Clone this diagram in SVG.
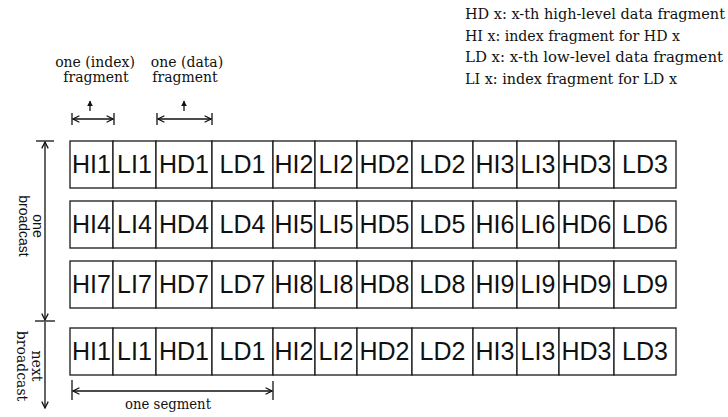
<svg xmlns="http://www.w3.org/2000/svg" width="728" height="417" viewBox="0 0 728 417">
<style>
.cell rect{fill:#fff;stroke:#1a1a1a;stroke-width:1.3}
.cell text{font-family:"Liberation Sans",Arial,sans-serif;font-size:25px;fill:#111;text-anchor:middle}
.serif{font-family:"DejaVu Serif","Liberation Serif",serif;font-size:14px;fill:#111}
.sans{font-family:"Liberation Sans",Arial,sans-serif;font-size:14px;fill:#111}
.ln{stroke:#111;stroke-width:1.3;fill:none}
</style>
<defs>
<marker id="ah" viewBox="0 0 10 10" refX="9" refY="5" markerWidth="8" markerHeight="8" markerUnits="userSpaceOnUse" orient="auto-start-reverse">
<path d="M1,1 L9,5 L1,9" fill="none" stroke="#111" stroke-width="1.6"/>
</marker>
<marker id="fh" viewBox="0 0 10 10" refX="9" refY="5" markerWidth="6" markerHeight="6" markerUnits="userSpaceOnUse" orient="auto-start-reverse">
<path d="M0,0 L10,5 L0,10 Z" fill="#111"/>
</marker>
</defs>

<g id="legend" class="serif">
<text x="465" y="19" textLength="260" lengthAdjust="spacingAndGlyphs">HD x: x-th high-level data fragment</text>
<text x="465" y="41" textLength="215" lengthAdjust="spacingAndGlyphs">HI x: index fragment for HD x</text>
<text x="465" y="62" textLength="258" lengthAdjust="spacingAndGlyphs">LD x: x-th low-level data fragment</text>
<text x="465" y="84" textLength="212" lengthAdjust="spacingAndGlyphs">LI x: index fragment for LD x</text>
</g>

<g id="label-index" class="serif" text-anchor="middle">
<text x="95" y="67">one (index)</text>
<text x="96" y="82">fragment</text>
</g>
<g id="label-data" class="serif" text-anchor="middle">
<text x="187" y="67">one (data)</text>
<text x="185" y="82">fragment</text>
</g>

<g id="row1">
<g class="cell" id="r1c1"><rect x="70" y="141" width="43" height="47"/><text x="91.5" y="173">HI1</text></g>
<g class="cell" id="r1c2"><rect x="113" y="141" width="43" height="47"/><text x="134.5" y="173">LI1</text></g>
<g class="cell" id="r1c3"><rect x="156" y="141" width="56" height="47"/><text x="184" y="173">HD1</text></g>
<g class="cell" id="r1c4"><rect x="212" y="141" width="61" height="47"/><text x="242.5" y="173">LD1</text></g>
<g class="cell" id="r1c5"><rect x="273" y="141" width="42" height="47"/><text x="294" y="173">HI2</text></g>
<g class="cell" id="r1c6"><rect x="315" y="141" width="42" height="47"/><text x="336" y="173">LI2</text></g>
<g class="cell" id="r1c7"><rect x="357" y="141" width="55" height="47"/><text x="384.5" y="173">HD2</text></g>
<g class="cell" id="r1c8"><rect x="412" y="141" width="61" height="47"/><text x="442.5" y="173">LD2</text></g>
<g class="cell" id="r1c9"><rect x="473" y="141" width="44" height="47"/><text x="495" y="173">HI3</text></g>
<g class="cell" id="r1c10"><rect x="517" y="141" width="42" height="47"/><text x="538" y="173">LI3</text></g>
<g class="cell" id="r1c11"><rect x="559" y="141" width="55" height="47"/><text x="586.5" y="173">HD3</text></g>
<g class="cell" id="r1c12"><rect x="614" y="141" width="62" height="47"/><text x="645" y="173">LD3</text></g>
</g>

<g id="row2">
<g class="cell" id="r2c1"><rect x="70" y="201" width="43" height="47"/><text x="91.5" y="233">HI4</text></g>
<g class="cell" id="r2c2"><rect x="113" y="201" width="43" height="47"/><text x="134.5" y="233">LI4</text></g>
<g class="cell" id="r2c3"><rect x="156" y="201" width="56" height="47"/><text x="184" y="233">HD4</text></g>
<g class="cell" id="r2c4"><rect x="212" y="201" width="61" height="47"/><text x="242.5" y="233">LD4</text></g>
<g class="cell" id="r2c5"><rect x="273" y="201" width="42" height="47"/><text x="294" y="233">HI5</text></g>
<g class="cell" id="r2c6"><rect x="315" y="201" width="42" height="47"/><text x="336" y="233">LI5</text></g>
<g class="cell" id="r2c7"><rect x="357" y="201" width="55" height="47"/><text x="384.5" y="233">HD5</text></g>
<g class="cell" id="r2c8"><rect x="412" y="201" width="61" height="47"/><text x="442.5" y="233">LD5</text></g>
<g class="cell" id="r2c9"><rect x="473" y="201" width="44" height="47"/><text x="495" y="233">HI6</text></g>
<g class="cell" id="r2c10"><rect x="517" y="201" width="42" height="47"/><text x="538" y="233">LI6</text></g>
<g class="cell" id="r2c11"><rect x="559" y="201" width="55" height="47"/><text x="586.5" y="233">HD6</text></g>
<g class="cell" id="r2c12"><rect x="614" y="201" width="62" height="47"/><text x="645" y="233">LD6</text></g>
</g>

<g id="row3">
<g class="cell" id="r3c1"><rect x="70" y="261" width="43" height="47"/><text x="91.5" y="293">HI7</text></g>
<g class="cell" id="r3c2"><rect x="113" y="261" width="43" height="47"/><text x="134.5" y="293">LI7</text></g>
<g class="cell" id="r3c3"><rect x="156" y="261" width="56" height="47"/><text x="184" y="293">HD7</text></g>
<g class="cell" id="r3c4"><rect x="212" y="261" width="61" height="47"/><text x="242.5" y="293">LD7</text></g>
<g class="cell" id="r3c5"><rect x="273" y="261" width="42" height="47"/><text x="294" y="293">HI8</text></g>
<g class="cell" id="r3c6"><rect x="315" y="261" width="42" height="47"/><text x="336" y="293">LI8</text></g>
<g class="cell" id="r3c7"><rect x="357" y="261" width="55" height="47"/><text x="384.5" y="293">HD8</text></g>
<g class="cell" id="r3c8"><rect x="412" y="261" width="61" height="47"/><text x="442.5" y="293">LD8</text></g>
<g class="cell" id="r3c9"><rect x="473" y="261" width="44" height="47"/><text x="495" y="293">HI9</text></g>
<g class="cell" id="r3c10"><rect x="517" y="261" width="42" height="47"/><text x="538" y="293">LI9</text></g>
<g class="cell" id="r3c11"><rect x="559" y="261" width="55" height="47"/><text x="586.5" y="293">HD9</text></g>
<g class="cell" id="r3c12"><rect x="614" y="261" width="62" height="47"/><text x="645" y="293">LD9</text></g>
</g>

<g id="row4">
<g class="cell" id="r4c1"><rect x="70" y="328" width="43" height="47"/><text x="91.5" y="360">HI1</text></g>
<g class="cell" id="r4c2"><rect x="113" y="328" width="43" height="47"/><text x="134.5" y="360">LI1</text></g>
<g class="cell" id="r4c3"><rect x="156" y="328" width="56" height="47"/><text x="184" y="360">HD1</text></g>
<g class="cell" id="r4c4"><rect x="212" y="328" width="61" height="47"/><text x="242.5" y="360">LD1</text></g>
<g class="cell" id="r4c5"><rect x="273" y="328" width="42" height="47"/><text x="294" y="360">HI2</text></g>
<g class="cell" id="r4c6"><rect x="315" y="328" width="42" height="47"/><text x="336" y="360">LI2</text></g>
<g class="cell" id="r4c7"><rect x="357" y="328" width="55" height="47"/><text x="384.5" y="360">HD2</text></g>
<g class="cell" id="r4c8"><rect x="412" y="328" width="61" height="47"/><text x="442.5" y="360">LD2</text></g>
<g class="cell" id="r4c9"><rect x="473" y="328" width="44" height="47"/><text x="495" y="360">HI3</text></g>
<g class="cell" id="r4c10"><rect x="517" y="328" width="42" height="47"/><text x="538" y="360">LI3</text></g>
<g class="cell" id="r4c11"><rect x="559" y="328" width="55" height="47"/><text x="586.5" y="360">HD3</text></g>
<g class="cell" id="r4c12"><rect x="614" y="328" width="62" height="47"/><text x="645" y="360">LD3</text></g>
</g>

<g id="connectors">
<!-- fragment width arrows -->
<line class="ln" x1="72" y1="113" x2="72" y2="125"/>
<line class="ln" x1="114" y1="113" x2="114" y2="125"/>
<line class="ln" x1="73" y1="119" x2="113" y2="119" marker-start="url(#ah)" marker-end="url(#ah)"/>
<line class="ln" x1="90" y1="111" x2="90" y2="101" marker-end="url(#fh)"/>
<line class="ln" x1="157" y1="113" x2="157" y2="125"/>
<line class="ln" x1="212" y1="113" x2="212" y2="125"/>
<line class="ln" x1="158" y1="119" x2="211" y2="119" marker-start="url(#ah)" marker-end="url(#ah)"/>
<line class="ln" x1="184" y1="111" x2="184" y2="101" marker-end="url(#fh)"/>
<!-- broadcast arrows -->
<line class="ln" x1="36" y1="141" x2="54" y2="141"/>
<line class="ln" x1="45" y1="142" x2="45" y2="320" marker-start="url(#ah)" marker-end="url(#ah)"/>
<line class="ln" x1="35" y1="321" x2="55" y2="321"/>
<line class="ln" x1="45" y1="322" x2="45" y2="408" marker-end="url(#ah)"/>
<!-- segment arrow -->
<line class="ln" x1="72" y1="380" x2="72" y2="400"/>
<line class="ln" x1="273" y1="381" x2="273" y2="400"/>
<line class="ln" x1="73" y1="391" x2="272" y2="391" marker-start="url(#ah)" marker-end="url(#ah)"/>
</g>

<g id="label-one-broadcast" class="sans" text-anchor="middle" transform="translate(27,226) rotate(90)">
<text x="0" y="-6">one</text>
<text x="0" y="8">broadcast</text>
</g>
<g id="label-next-broadcast" class="serif" text-anchor="middle" transform="translate(26,366) rotate(90)">
<text x="0" y="-6">next</text>
<text x="0" y="9">broadcast</text>
</g>
<g id="label-segment" class="serif" text-anchor="middle">
<text x="168" y="409" textLength="86" lengthAdjust="spacingAndGlyphs">one segment</text>
</g>
</svg>
